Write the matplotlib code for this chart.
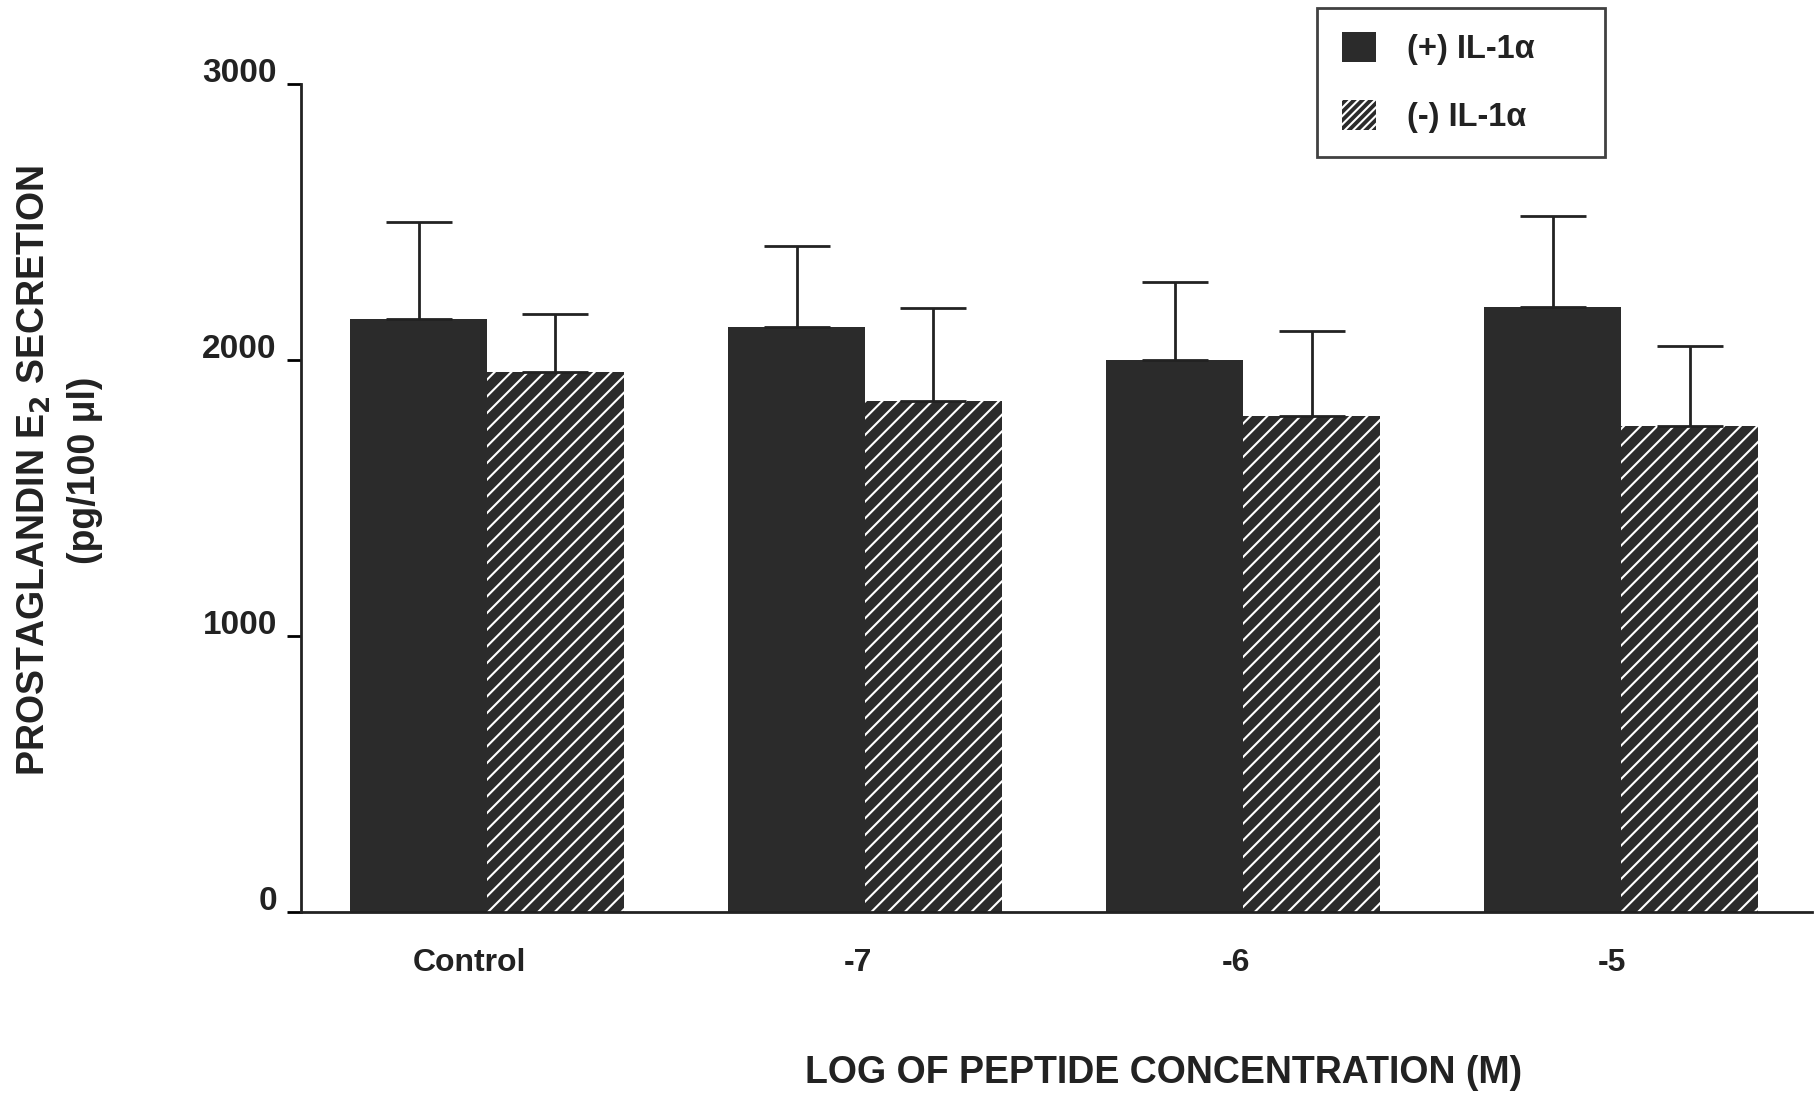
import matplotlib
matplotlib.use("Agg")
import matplotlib.pyplot as plt
import numpy as np
from matplotlib.patches import Patch
from matplotlib.transforms import ScaledTranslation

plt.rcParams['font.family'] = ['Liberation Sans', 'DejaVu Sans']
plt.rcParams['hatch.linewidth'] = 1.5

categories = ["Control", "-7", "-6", "-5"]
plus_il1 = [2150, 2118, 2000, 2193]
plus_err = [350, 295, 282, 328]
minus_il1 = [1958, 1853, 1798, 1761]
minus_err = [210, 336, 307, 289]

dark = "#2b2b2b"
x = np.arange(len(categories))
w = 0.362

fig = plt.figure(figsize=(18.18, 10.97), dpi=100)
ax = fig.add_axes([0.1656, 0.1686, 0.8311, 0.7548])

ax.bar(x - w / 2, plus_il1, w, color=dark, linewidth=0,
       yerr=[np.zeros(4), plus_err], capsize=24,
       error_kw=dict(ecolor="#222222", elinewidth=2, capthick=2))
ax.bar(x + w / 2, minus_il1, w, color=dark, edgecolor="white", linewidth=0,
       hatch="//",
       yerr=[np.zeros(4), minus_err], capsize=24,
       error_kw=dict(ecolor="#222222", elinewidth=2, capthick=2))

ax.set_xlim(-0.492, 3.505)
ax.set_ylim(0, 3000)
ax.set_yticks([0, 1000, 2000, 3000])
# labels sit a little left of the group centres in the original
ax.set_xticks(x + np.array([-0.046, -0.018, -0.018, -0.025]))
ax.set_xticklabels(categories, fontsize=23, fontweight="bold", color="#222222")
ax.tick_params(axis="x", length=0, pad=26)
ax.tick_params(axis="y", length=10, width=2, labelsize=24, pad=7.5,
               labelcolor="#222222")
for lab in ax.get_yticklabels():
    lab.set_fontweight("bold")
    lab.set_transform(lab.get_transform() + ScaledTranslation(0, 0.14, fig.dpi_scale_trans))

for s in ["top", "right"]:
    ax.spines[s].set_visible(False)
for s in ["left", "bottom"]:
    ax.spines[s].set_linewidth(2)
    ax.spines[s].set_color("#222222")

fig.text(0.019, 0.571, "PROSTAGLANDIN E$_\\mathbf{2}$ SECRETION", rotation=90,
         ha="center", va="center", fontsize=27, fontweight="bold", color="#222222")
fig.text(0.047, 0.571, "(pg/100 μl)", rotation=90,
         ha="center", va="center", fontsize=27, fontweight="bold", color="#222222")

fig.text(0.64, 0.022, "LOG OF PEPTIDE CONCENTRATION (M)",
         ha="center", va="center", fontsize=27, fontweight="bold",
         family=["Liberation Sans Narrow", "Liberation Sans"], color="#222222")

handles = [Patch(facecolor=dark, linewidth=0),
           Patch(facecolor=dark, edgecolor="white", linewidth=0, hatch="////")]
leg = fig.legend(handles, ["(+) IL-1α", "(-) IL-1α"], loc="upper left",
                 bbox_to_anchor=(0.7245, 0.5, 0.1582, 0.493), mode="expand",
                 frameon=True, fancybox=False,
                 edgecolor="#111111", fontsize=23.5, handlelength=1.05,
                 handleheight=1.05, labelspacing=1.05, handletextpad=0.95,
                 borderpad=0.75, borderaxespad=0)
leg.get_frame().set_linewidth(2)
for t in leg.get_texts():
    t.set_fontweight("bold")
    t.set_color("#222222")

fig.savefig("out.png", dpi=100)
